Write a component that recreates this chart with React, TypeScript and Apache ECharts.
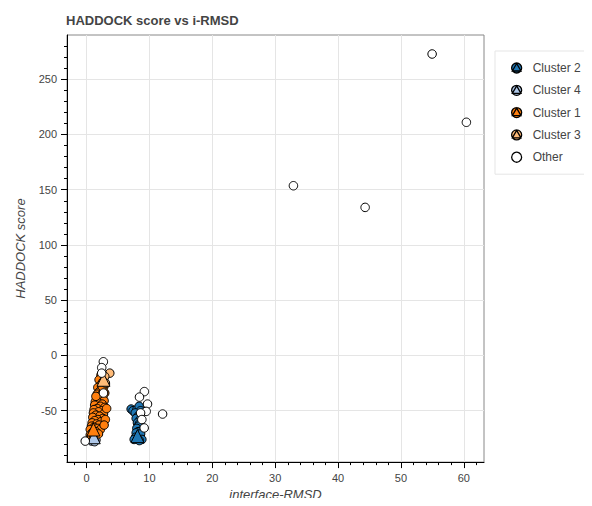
import React, { useEffect, useRef } from "react";
import * as echarts from "echarts";

const chartTitle = "HADDOCK score vs i-RMSD";
const xAxisName = "interface-RMSD";
const yAxisName = "HADDOCK score";

const xMajorTicks = [0, 10, 20, 30, 40, 50, 60];
const xMinorTicks = [-2, 0, 2, 4, 6, 8, 10, 12, 14, 16, 18, 20, 22, 24, 26, 28, 30, 32, 34, 36, 38, 40, 42, 44, 46, 48, 50, 52, 54, 56, 58, 60, 62];
const yMajorTicks = [-50, 0, 50, 100, 150, 200, 250];
const yMinorTicks = [-90, -80, -70, -60, -50, -40, -30, -20, -10, 0, 10, 20, 30, 40, 50, 60, 70, 80, 90, 100, 110, 120, 130, 140, 150, 160, 170, 180, 190, 200, 210, 220, 230, 240, 250, 260, 270, 280];

// [i-RMSD, HADDOCK score]
const cluster1 = [
  [2.3, -18], [2.8, -20], [2.0, -22], [2.6, -24], [3.0, -26], [2.2, -27], [1.8, -29], [2.7, -29],
  [2.4, -31], [2.0, -33], [2.9, -34], [1.7, -35], [2.3, -36], [2.6, -38], [1.6, -39], [2.1, -40],
  [2.8, -41], [1.4, -42], [1.9, -43], [2.5, -44], [1.3, -45], [2.2, -46], [2.9, -47], [1.7, -48],
  [1.2, -49], [2.4, -50], [1.9, -51], [1.1, -52], [2.7, -53], [1.5, -54], [2.1, -55], [1.0, -56],
  [2.6, -57], [1.8, -58], [1.3, -59], [2.3, -60], [0.9, -61], [1.6, -62], [2.0, -63], [0.8, -64],
  [1.2, -65], [1.8, -66], [0.6, -67], [2.2, -67], [1.5, -69], [0.9, -70], [0.6, -72], [1.3, -72],
  [1.9, -71], [0.8, -74], [1.1, -75], [3.2, -48], [3.0, -58], [2.8, -63], [1.5, -37], [2.5, -28],
];
const cluster1Best = [[1.1, -67]];

const cluster3 = [[3.7, -16], [2.9, -19], [3.0, -25]];
const cluster3Best = [[2.7, -22]];

const cluster2 = [
  [7.1, -48.5], [7.4, -50], [8.0, -49], [8.37, -46], [8.6, -50], [7.74, -52], [8.2, -55], [7.9, -57],
  [8.53, -58], [8.1, -61], [8.4, -62], [8.27, -64], [8.0, -66], [8.53, -68.6], [8.2, -69], [7.9, -70],
  [8.6, -71], [7.8, -74], [7.58, -76], [8.8, -76], [8.4, -77],
];
const cluster2Best = [[8.1, -73]];

const cluster4 = [[0.83, -77.5], [1.5, -76.5], [1.3, -78]];
const cluster4Best = [[1.15, -74]];

const others = [
  [54.95, 272.8], [60.4, 211], [32.9, 153.6], [44.3, 134],
  [12.1, -53], [9.2, -32.7], [8.42, -37.7], [9.7, -44], [9.49, -50.6], [8.6, -52], [8.8, -58], [9.17, -65.6],
  [2.68, -5.7], [2.42, -11], [2.42, -16], [2.7, -34], [-0.2, -77.5],
];

const clusterColors: Record<string, string> = {
  "Cluster 2": "#1f77b4",
  "Cluster 4": "#aec7e8",
  "Cluster 1": "#ff7f0e",
  "Cluster 3": "#ffbb78",
};

const legendOrder = ["Cluster 2", "Cluster 4", "Cluster 1", "Cluster 3", "Other"];

// circle with a triangle laid over it, as the cluster glyphs combine both
const comboIcon =
  "path://M0,6a6,6 0 1,0 12,0a6,6 0 1,0 -12,0Z M6,0.6L0.8,9.6L11.2,9.6Z";

const X_MIN = -3.1;
const X_MAX = 63.2;
const Y_MIN = -96.5;
const Y_MAX = 290;

function circleSeries(name: string, data: number[][], color: string, z: number) {
  return {
    type: "scatter",
    name,
    data,
    symbol: "circle",
    symbolSize: 8.5,
    z,
    itemStyle: { color, borderColor: "#000", borderWidth: 1, opacity: 1 },
    emphasis: { disabled: true },
  };
}

function triangleSeries(name: string, data: number[][], color: string, z: number) {
  return {
    type: "scatter",
    name,
    data,
    symbol: "triangle",
    symbolSize: 13,
    z,
    itemStyle: { color, borderColor: "#000", borderWidth: 1, opacity: 1 },
    emphasis: { disabled: true },
  };
}

export default function App() {
  const ref = useRef<HTMLDivElement>(null);

  useEffect(() => {
    if (!ref.current) return;
    const chart = echarts.init(ref.current, undefined, { renderer: "svg" });
    const axisText = { color: "#444", fontFamily: "Liberation Sans, Arial, sans-serif", fontSize: 11 };

    const option = {
      animation: false,
      backgroundColor: "#fff",
      textStyle: { color: "#444" },
      title: {
        text: chartTitle,
        left: 61,
        top: 9,
        textStyle: { color: "#444", fontSize: 13, fontWeight: "bold", fontFamily: "Liberation Sans, Arial, sans-serif" },
      },
      legend: {
        orient: "vertical",
        left: 495,
        top: 51,
        padding: [11, 30, 11, 16],
        itemGap: 10.3,
        itemWidth: 10,
        itemHeight: 10,
        borderColor: "#e5e5e5",
        borderWidth: 1,
        backgroundColor: "#fff",
        textStyle: { color: "#444", fontSize: 12, fontFamily: "Liberation Sans, Arial, sans-serif", padding: [0, 0, 0, 6] },
        data: legendOrder.map((n) =>
          n === "Other"
            ? { name: n, icon: "circle", itemStyle: { color: "#fff", borderColor: "#000", borderWidth: 1.3 } }
            : { name: n, icon: comboIcon, itemStyle: { color: clusterColors[n], borderColor: "#000", borderWidth: 1.3 } }
        ),
        selectedMode: false,
      },
      grid: { left: 67, right: 108, top: 35, bottom: 42, show: true, borderColor: "#888", borderWidth: 1, backgroundColor: "transparent" },
      xAxis: [
        {
          type: "value",
          min: X_MIN,
          max: X_MAX,
          name: xAxisName,
          nameLocation: "middle",
          nameGap: 21,
          nameTextStyle: { ...axisText, fontSize: 13, fontStyle: "italic", verticalAlign: "top" },
          axisLine: { show: true, onZero: false, lineStyle: { color: "#000", width: 1 } },
          axisTick: { show: true, length: 6, customValues: xMajorTicks, lineStyle: { color: "#000" } },
          axisLabel: { ...axisText, margin: 10, customValues: xMajorTicks },
          splitLine: { show: true, lineStyle: { color: "#e5e5e5", width: 1 } },
        },
        {
          type: "value",
          min: X_MIN,
          max: X_MAX,
          position: "bottom",
          axisLine: { show: false, onZero: false },
          axisTick: { show: true, length: 3, customValues: xMinorTicks, lineStyle: { color: "#000" } },
          axisLabel: { show: false },
          splitLine: { show: false },
        },
      ],
      yAxis: [
        {
          type: "value",
          min: Y_MIN,
          max: Y_MAX,
          name: yAxisName,
          nameLocation: "middle",
          nameGap: 40,
          nameTextStyle: { ...axisText, fontSize: 13, fontStyle: "italic" },
          axisLine: { show: true, onZero: false, lineStyle: { color: "#000", width: 1 } },
          axisTick: { show: true, length: 6, customValues: yMajorTicks, lineStyle: { color: "#000" } },
          axisLabel: { ...axisText, margin: 10, customValues: yMajorTicks },
          splitLine: { show: true, lineStyle: { color: "#e5e5e5", width: 1 } },
        },
        {
          type: "value",
          min: Y_MIN,
          max: Y_MAX,
          position: "left",
          axisLine: { show: false, onZero: false },
          axisTick: { show: true, length: 3, customValues: yMinorTicks, lineStyle: { color: "#000" } },
          axisLabel: { show: false },
          splitLine: { show: false },
        },
      ],
      series: [
        circleSeries("Cluster 2", cluster2, clusterColors["Cluster 2"], 2),
        triangleSeries("Cluster 2", cluster2Best, clusterColors["Cluster 2"], 3),
        circleSeries("Cluster 4", cluster4, clusterColors["Cluster 4"], 2),
        triangleSeries("Cluster 4", cluster4Best, clusterColors["Cluster 4"], 3),
        circleSeries("Cluster 1", cluster1, clusterColors["Cluster 1"], 2),
        triangleSeries("Cluster 1", cluster1Best, clusterColors["Cluster 1"], 3),
        circleSeries("Cluster 3", cluster3, clusterColors["Cluster 3"], 2),
        triangleSeries("Cluster 3", cluster3Best, clusterColors["Cluster 3"], 3),
        circleSeries("Other", others, "#fff", 4),
      ],
    };

    chart.setOption(option as any);
    return () => chart.dispose();
  }, []);

  return <div ref={ref} style={{ width: 592, height: 506, margin: -8 }} />;
}
